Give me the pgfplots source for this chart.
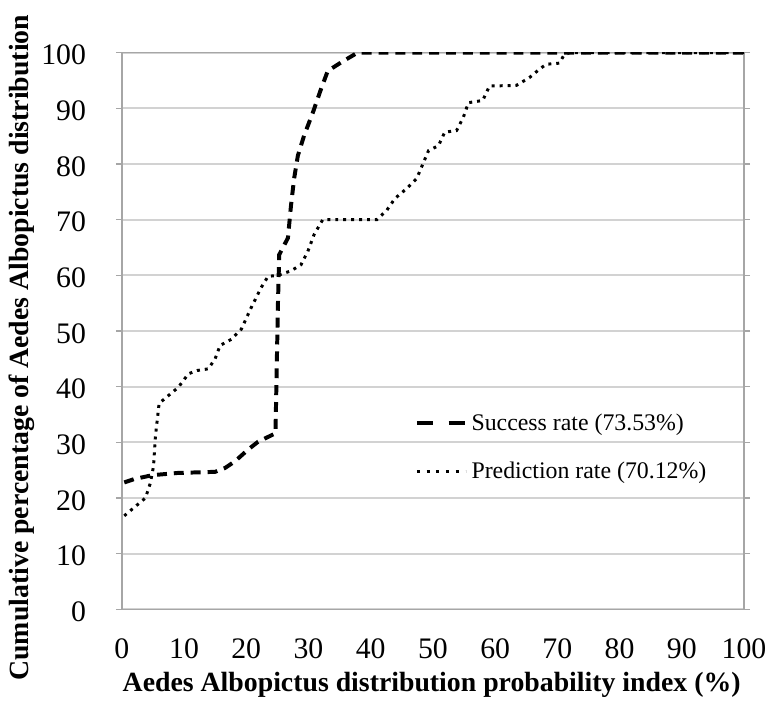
\documentclass[border=0pt]{standalone}
\usepackage{fontspec}
\setmainfont{Liberation Serif}
\usepackage{pgfplots}
\pgfplotsset{compat=1.18}
\begin{document}
\begin{tikzpicture}
\begin{axis}[
  scale only axis,
  width=313.5pt, height=280.5pt,
  xmin=0, xmax=100, ymin=0, ymax=100,
  xtick={0,10,...,100}, ytick={0,10,...,100},
  /pgf/number format/assume math mode=true,
  tick label style={font=\fontsize{15}{18}\selectfont},
  xticklabel style={yshift=-8pt},
  yticklabel style={xshift=-11.5pt, yshift=-1.2pt},
  tick align=outside,
  major tick length=3pt,
  tick style={gray!70, line width=0.6pt},
  xtick style={draw=none},
  axis line style={gray!70, line width=0.8pt},
  ymajorgrids,
  grid style={gray!35, line width=1pt},
  xlabel={\bfseries Aedes Albopictus distribution probability index (\%)},
  ylabel={\bfseries Cumulative percentage of Aedes Albopictus distribution},
  label style={font=\fontsize{14}{16}\selectfont},
  xlabel style={at={(axis description cs:0.498,-0.1355)}, anchor=center},
  ylabel style={at={(axis description cs:-0.1606,0.47)}, anchor=center, rotate=0},
  legend style={draw=none, fill=none, font=\fontsize{12}{14}\selectfont,
    at={(axis description cs:0.461,0.3667)}, anchor=north west,
    row sep=10.5pt},
  legend cell align=left,
  legend image code/.code={\draw[#1] (-4pt,0pt) -- (20.5pt,0pt);},
]
\addplot[black, line width=2pt, dash pattern=on 5pt off 3.5pt,
  legend image post style={dash pattern=on 8pt off 8pt}] coordinates {
(0.4,22.8) (2,23.4) (4.9,24.1) (9,24.5) (15,24.7) (16.6,25.4) (18.2,26.6)
(20.3,28.7) (21.9,30.1) (24.3,31.4) (24.7,31.6) (25.1,55) (25.3,63.7)
(26.7,66.7) (27.2,72.6) (27.7,77.4) (28.3,81.5) (29.3,85.1) (30.7,89.2)
(32,93.4) (33.1,96.7) (35.2,98.2) (37.9,100) (100,100)
};
\addlegendentry{Success rate (73.53\%)}
\addplot[black, line width=1.5pt, dash pattern=on 1.5pt off 2.5pt,
  legend image post style={dash pattern=on 1.5pt off 3.4pt}] coordinates {
(0.4,16.8) (2.2,18.5) (3.8,20) (4.6,22.7) (5.1,25.7) (5.4,31) (6,37)
(7.5,38.4) (9.1,39.9) (10.7,42.3) (12.1,42.9) (13.9,43.2) (15,45) (15.8,47.4)
(17.6,48.5) (19.2,50.3) (20.8,54.2) (22.4,57.8) (23.5,59.8) (25.1,60)
(27.2,60.8) (28.8,61.9) (29.9,64.3) (30.9,67.3) (32.3,70) (41,70)
(42.6,71.7) (43.9,73.8) (45.8,75.6) (47.4,77.4) (48.5,80.3) (49.3,82.4)
(50.9,83.3) (51.9,85.7) (53.8,86) (54.9,88.4) (55.7,91) (58,91.4)
(59.1,94) (63.4,94.1) (65.5,95.5) (67.1,97) (68.2,97.9) (70.3,98.1)
(71.1,99.6) (72,100) (100,100)
};
\addlegendentry{Prediction rate (70.12\%)}
\coordinate (O) at (rel axis cs:0,0);
\end{axis}
\path[use as bounding box] ([shift={(-61.35pt,-47.5pt)}]O) rectangle ++(386.5pt,354.5pt);
\end{tikzpicture}
\end{document}
